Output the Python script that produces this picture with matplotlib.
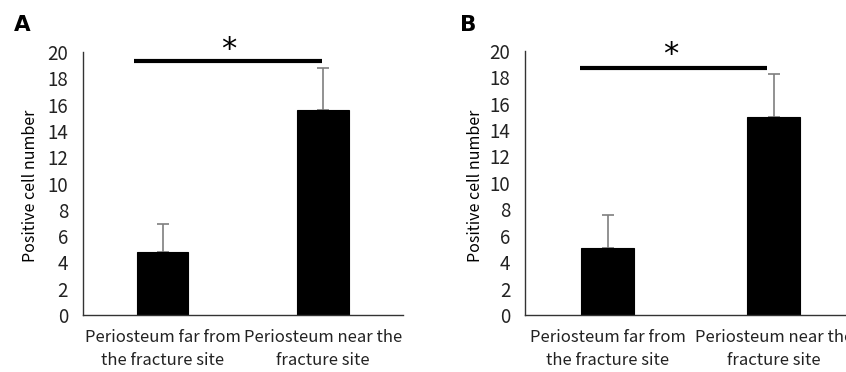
import matplotlib
matplotlib.use("Agg")
import matplotlib.pyplot as plt

categories = ["Periosteum far from\nthe fracture site", "Periosteum near the\nfracture site"]
values_A = [4.8, 15.6]
errors_A = [2.15, 3.2]
values_B = [5.05, 15.0]
errors_B = [2.55, 3.2]
yticks = list(range(0, 21, 2))
ylabel = "Positive cell number"

plt.rcParams['font.family'] = ['Noto Sans CJK JP', 'DejaVu Sans']

fig = plt.figure(figsize=(8.46, 3.72), dpi=100)

def panel(rect, vals, errs, sig_y, sig_x, star_xy, letter, letter_xy, ylab_x):
    ax = fig.add_axes(rect)
    x = list(range(len(categories)))
    ax.bar(x, vals, width=0.32, color='black', edgecolor='black', linewidth=0.8, zorder=2)
    ax.errorbar(x, vals, yerr=[[0]*len(errs), errs], fmt='none', ecolor='#7f7f7f',
                elinewidth=1.2, capsize=4, capthick=1.2, zorder=1)
    ax.set_xlim(-0.5, 1.5)
    ax.set_ylim(0, 20)
    ax.set_yticks(yticks)
    ax.set_xticks(x)
    ax.set_xticklabels(categories, fontsize=12, linespacing=1.5)
    ax.tick_params(axis='both', length=0, colors='#222222')
    ax.tick_params(axis='x', pad=10, labelsize=12)
    ax.tick_params(axis='y', pad=10.5, labelsize=13.5)
    for s in ['top', 'right']:
        ax.spines[s].set_visible(False)
    for s in ['left', 'bottom']:
        ax.spines[s].set_color('#333333')
        ax.spines[s].set_linewidth(1.0)
    ax.set_ylabel(ylabel, fontsize=11.5)
    ax.yaxis.set_label_coords(ylab_x, 0.49)
    ax.plot(sig_x, [sig_y, sig_y], color='black', linewidth=3, solid_capstyle='butt', clip_on=False)
    ax.text(star_xy[0], star_xy[1], "*", fontsize=22, ha='center', va='center',
            family='DejaVu Sans', clip_on=False)
    fig.text(letter_xy[0], letter_xy[1], letter, fontsize=15.5, fontweight='bold',
             family='DejaVu Sans', ha='center', va='center')
    return ax

panel([0.0977, 0.1532, 0.3787, 0.707], values_A, errors_A, 19.3, [-0.18, 0.995],
      (0.41, 20.2), "A", (0.026, 0.933), -0.136)
panel([0.6206, 0.1532, 0.392, 0.7105], values_B, errors_B, 18.7, [-0.168, 0.958],
      (0.38, 19.7), "B", (0.553, 0.933), -0.124)

fig.savefig("out.png", dpi=100)
